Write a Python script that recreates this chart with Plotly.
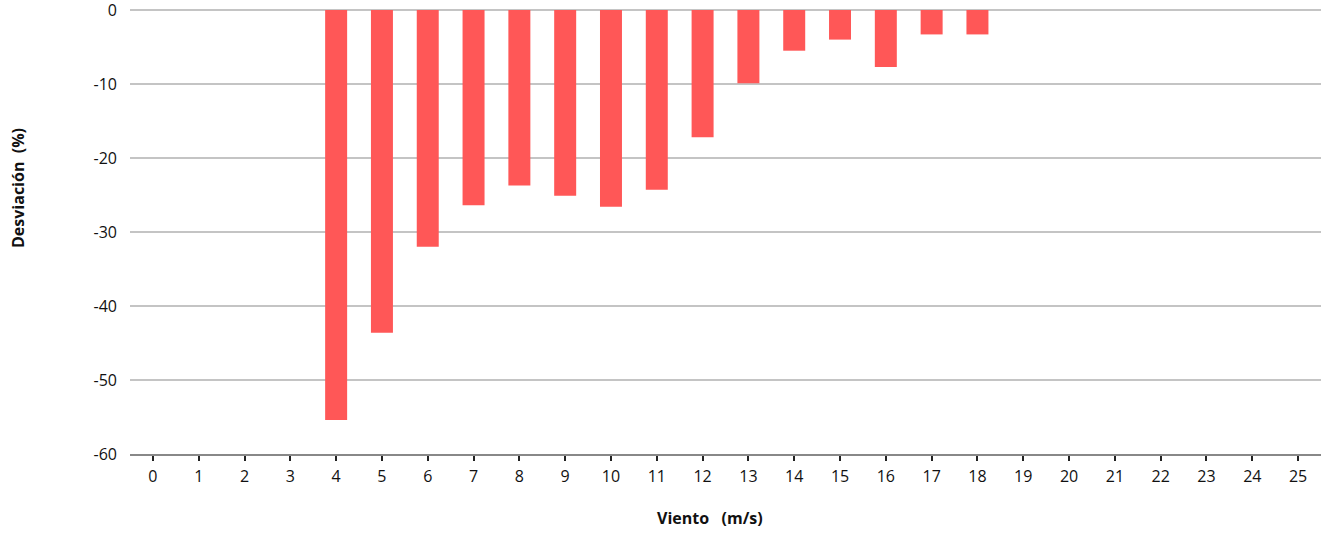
import plotly.graph_objects as go

# Wind speed categories and deviation values
viento = [str(v) for v in range(26)]
desviacion = [None, None, None, None, -55.4, -43.6, -32.0, -26.4, -23.7, -25.1,
              -26.6, -24.3, -17.2, -9.9, -5.5, -4.0, -7.7, -3.3, -3.3,
              None, None, None, None, None, None, None]
y_ticks = [0, -10, -20, -30, -40, -50, -60]
y_labels = ["0", "-10", "-20", "-30", "-40", "-50", "-60"]

W, H = 1324, 533
L, R, T, B = 130, 3, 10, 79
plot_w, plot_h = W - L - R, H - T - B

fig = go.Figure(go.Bar(
    x=viento,
    y=desviacion,
    marker=dict(color="#FF5757", line=dict(width=0)),
))

fig.update_layout(
    width=W,
    height=H,
    margin=dict(l=L, r=R, t=T, b=B),
    plot_bgcolor="white",
    paper_bgcolor="white",
    bargap=0.52,
    showlegend=False,
    font=dict(family="Open Sans, Liberation Sans, sans-serif", size=16, color="#111"),
    annotations=[
        dict(text="<b>Viento\u00a0\u00a0\u00a0(m/s)</b>", xref="paper", yref="paper",
             x=(710 - L) / plot_w, y=-(518 - (T + plot_h)) / plot_h,
             xanchor="center", yanchor="middle", showarrow=False, font=dict(size=16)),
        dict(text="<b>Desviación\u00a0\u00a0(%)</b>", xref="paper", yref="paper",
             x=-(L - 18) / plot_w, y=(T + plot_h - 188) / plot_h,
             xanchor="center", yanchor="middle", textangle=-90,
             showarrow=False, font=dict(size=16)),
    ],
)

fig.update_xaxes(
    type="category",
    range=[-0.5, 25.5],
    automargin=False,
    showline=True,
    linecolor="#888888",
    linewidth=1.5,
    ticks="outside",
    ticklen=5,
    tickwidth=1.5,
    tickcolor="#222",
    showgrid=False,
    ticklabelstandoff=2,
)

fig.update_yaxes(
    range=[-60, 0],
    automargin=False,
    tickvals=y_ticks,
    ticktext=y_labels,
    ticklabeloverflow="allow",
    showgrid=True,
    gridcolor="#C4C4C4",
    gridwidth=1.5,
    zeroline=True,
    zerolinecolor="#C4C4C4",
    zerolinewidth=1.5,
    showline=False,
    ticks="",
    ticklabelstandoff=12,
)

# drop the default 8px page margin so the figure fills the window
fig.write_html("out.html", config={"displayModeBar": False},
               post_script="document.body.style.margin='0';")
